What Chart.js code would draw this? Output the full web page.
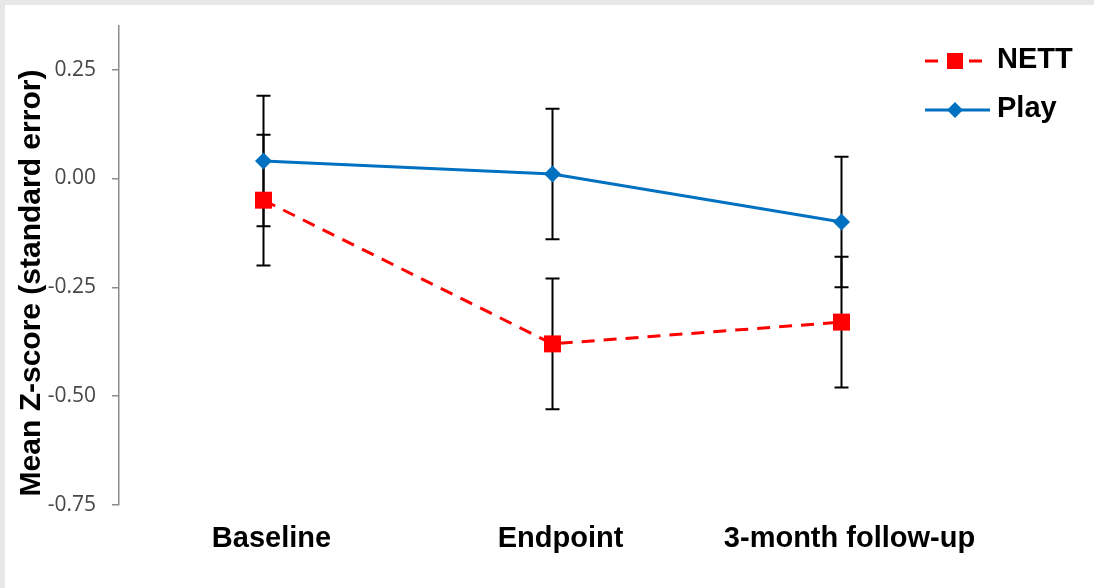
<!DOCTYPE html>
<html>
<head>
<meta charset="utf-8">
<script src="https://cdn.jsdelivr.net/npm/chart.js@4.4.0/dist/chart.umd.min.js"></script>
<style>
  html, body { margin: 0; padding: 0; background: #e7e7e7; width: 1094px; height: 588px; overflow: hidden; }
  #wrap { position: absolute; left: 5px; top: 5px; width: 1089px; height: 583px; background: #fff; }
</style>
</head>
<body>
<div id="wrap"><canvas id="chart"></canvas></div>
<script>
const CATEGORIES = ['Baseline', 'Endpoint', '3-month follow-up'];
const NETT_MEAN = [-0.05, -0.38, -0.33];
const NETT_SE = [0.15, 0.15, 0.15];
const PLAY_MEAN = [0.04, 0.01, -0.10];
const PLAY_SE = [0.15, 0.15, 0.15];
const Y_TICKS = [-0.75, -0.5, -0.25, 0, 0.25];
const Y_TITLE = 'Mean Z-score (standard error)';

const RED = '#ff0000';
const BLUE = '#0070c0';
const AXIS = '#8c8c8c';
const BOLD = '"Liberation Sans", Arial, sans-serif';

// error bars under the markers
const errorBars = {
  id: 'errorBars',
  beforeDatasetsDraw(chart) {
    const { ctx, scales: { y } } = chart;
    const errs = [NETT_SE, PLAY_SE];
    const means = [NETT_MEAN, PLAY_MEAN];
    ctx.save();
    ctx.strokeStyle = '#000';
    ctx.lineWidth = 2;
    chart.data.datasets.forEach((ds, d) => {
      chart.getDatasetMeta(d).data.forEach((pt, i) => {
        const top = y.getPixelForValue(means[d][i] + errs[d][i]);
        const bot = y.getPixelForValue(means[d][i] - errs[d][i]);
        ctx.beginPath();
        ctx.moveTo(pt.x, top); ctx.lineTo(pt.x, bot);
        ctx.moveTo(pt.x - 7, top); ctx.lineTo(pt.x + 7, top);
        ctx.moveTo(pt.x - 7, bot); ctx.lineTo(pt.x + 7, bot);
        ctx.stroke();
      });
    });
    ctx.restore();
  },
};

// y title + legend drawn by hand
const extras = {
  id: 'extras',
  afterDraw(chart) {
    const { ctx } = chart;
    ctx.save();
    ctx.fillStyle = '#000';
    ctx.font = 'bold 30px ' + BOLD;
    ctx.textAlign = 'center';
    ctx.textBaseline = 'middle';
    ctx.translate(27, 278);
    ctx.rotate(-Math.PI / 2);
    ctx.fillText(Y_TITLE, 0, 0);
    ctx.restore();

    ctx.save();
    // NETT
    ctx.strokeStyle = RED;
    ctx.lineWidth = 3;
    ctx.setLineDash([13, 9]);
    ctx.beginPath(); ctx.moveTo(920, 56); ctx.lineTo(985, 56); ctx.stroke();
    ctx.setLineDash([]);
    ctx.fillStyle = RED;
    ctx.fillRect(942, 48, 16, 16);
    // Play
    ctx.strokeStyle = BLUE;
    ctx.beginPath(); ctx.moveTo(920, 105); ctx.lineTo(985, 105); ctx.stroke();
    ctx.fillStyle = BLUE;
    ctx.beginPath();
    ctx.moveTo(950, 97); ctx.lineTo(958, 105); ctx.lineTo(950, 113); ctx.lineTo(942, 105);
    ctx.closePath(); ctx.fill();

    ctx.fillStyle = '#000';
    ctx.font = 'bold 29px ' + BOLD;
    ctx.textAlign = 'left';
    ctx.textBaseline = 'middle';
    ctx.fillText(chart.data.datasets[0].label, 992, 55);
    ctx.fillText(chart.data.datasets[1].label, 992, 104);
    ctx.restore();
  },
};

new Chart(document.getElementById('chart'), {
  type: 'line',
  data: {
    labels: CATEGORIES,
    datasets: [
      {
        label: 'NETT',
        data: NETT_MEAN,
        borderColor: RED,
        backgroundColor: RED,
        borderWidth: 3,
        borderDash: [13, 9],
        pointStyle: 'rect',
        pointRadius: 12,
        pointBorderWidth: 0,
        tension: 0,
      },
      {
        label: 'Play',
        data: PLAY_MEAN,
        borderColor: BLUE,
        backgroundColor: BLUE,
        borderWidth: 3,
        pointStyle: 'rectRot',
        pointRadius: 8.5,
        pointBorderWidth: 0,
        tension: 0,
      },
    ],
  },
  options: {
    responsive: true,
    maintainAspectRatio: false,
    animation: false,
    layout: { padding: { top: 21, right: 108, left: 0, bottom: 0 } },
    plugins: { legend: { display: false }, tooltip: { enabled: false } },
    scales: {
      x: {
        offset: true,
        grid: { display: false },
        border: { display: false },
        ticks: {
          color: '#000',
          font: { family: BOLD, size: 29, weight: 'bold' },
          padding: 9,
          labelOffset: 8,
          maxRotation: 0,
          autoSkip: false,
        },
        afterFit: (s) => { s.height = 83; s.paddingLeft = 0; s.paddingRight = 0; },
      },
      y: {
        min: -0.75,
        max: 0.35,
        grid: { drawOnChartArea: false, color: AXIS, tickLength: 7, lineWidth: 1.5 },
        border: { color: AXIS, width: 1.5 },
        ticks: {
          color: '#474747',
          font: { family: '"Open Sans", sans-serif', size: 21 },
          padding: 16,
          callback: (v) => v.toFixed(2),
        },
        afterBuildTicks: (s) => { s.ticks = Y_TICKS.map((v) => ({ value: v })); },
        afterFit: (s) => { s.width = 114; s.paddingTop = 0; s.paddingBottom = 0; },
      },
    },
  },
  plugins: [errorBars, extras],
});
</script>
</body>
</html>
